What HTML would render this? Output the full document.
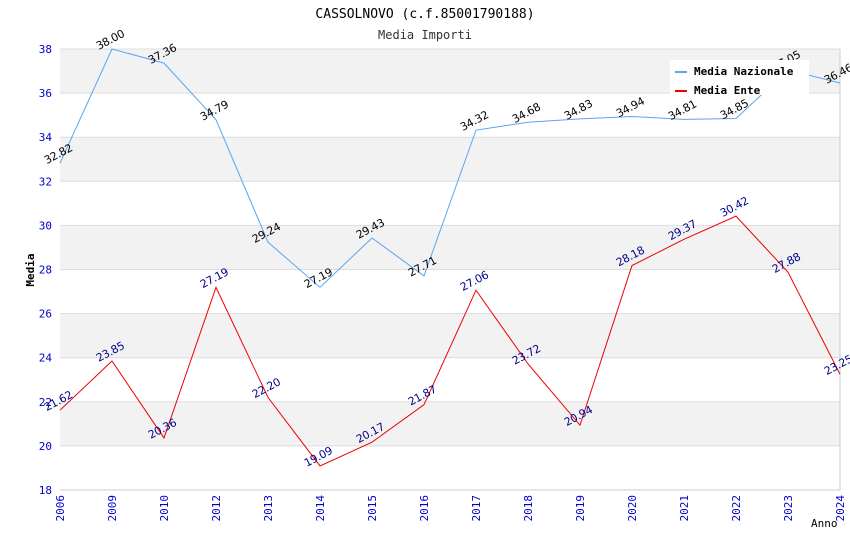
<!DOCTYPE html>
<html><head><meta charset="utf-8"><style>
body{margin:0;background:#fff;}
svg{font-family:"DejaVu Sans Mono","Liberation Mono",monospace;}
</style></head><body>
<svg id="chart" width="850" height="550" xmlns="http://www.w3.org/2000/svg">
<text x="425" y="18" text-anchor="middle" font-size="13">CASSOLNOVO (c.f.85001790188)</text>
<text x="425" y="39" text-anchor="middle" font-size="12" fill="#333">Media Importi</text>
<g id="bands"></g><g id="grid"></g><g id="axes"></g><g id="series"></g><g id="labels"></g>
<text transform="translate(34,270) rotate(-90)" text-anchor="middle" font-size="11" font-weight="bold">Media</text>
<text x="811" y="527" font-size="11">Anno</text>
<g>
<rect x="670" y="60" width="139" height="35" fill="#fff"/>
<line x1="675" y1="72" x2="687" y2="72" stroke="#5aa5ee" stroke-width="2"/>
<text x="694" y="75" font-size="11" font-weight="bold">Media Nazionale</text>
<line x1="675" y1="91" x2="687" y2="91" stroke="#e00" stroke-width="2"/>
<text x="694" y="94" font-size="11" font-weight="bold">Media Ente</text>
</g>
</svg>
<script>
const categories=["2006","2009","2010","2012","2013","2014","2015","2016","2017","2018","2019","2020","2021","2022","2023","2024"];
const nazionale=[32.82,38.00,37.36,34.79,29.24,27.19,29.43,27.71,34.32,34.68,34.83,34.94,34.81,34.85,37.05,36.46];
const ente=[21.62,23.85,20.36,27.19,22.20,19.09,20.17,21.87,27.06,23.72,20.94,28.18,29.37,30.42,27.88,23.25];
const yTicks=[18,20,22,24,26,28,30,32,34,36,38];
const NS="http://www.w3.org/2000/svg";
const x0=60,x1=840,yTop=49,yBot=490,yMin=18,yMax=38;
const xs=i=>x0+i*(x1-x0)/(categories.length-1);
const ys=v=>yBot-(v-yMin)/(yMax-yMin)*(yBot-yTop);
function mk(tag,attrs,parent){const e=document.createElementNS(NS,tag);for(const k in attrs)e.setAttribute(k,attrs[k]);document.getElementById(parent).appendChild(e);return e;}
for(let i=0;i<yTicks.length-1;i++){
  if(i%2===1){const r=mk('rect',{x:x0,y:ys(yTicks[i+1]),width:x1-x0,height:ys(yTicks[i])-ys(yTicks[i+1]),fill:'#f2f2f2'},'bands');
  
  }
}
yTicks.forEach(t=>{
  const l=mk('line',{x1:x0,x2:x1,y1:ys(t),y2:ys(t),stroke:'#ddd'},'grid');
  
  
  const tx=mk('text',{x:52,y:ys(t)+4,'text-anchor':'end','font-size':11,fill:'#00c'},'axes');
  tx.textContent=t;
  
  
});
mk('line',{x1:x1,x2:x1,y1:yTop,y2:yBot,stroke:'#ccc'},'axes');
mk('line',{x1:x0,x2:x1,y1:yBot,y2:yBot,stroke:'#ccc'},'axes');
categories.forEach((c,i)=>{
  const tx=mk('text',{transform:`translate(${xs(i)+4},${yBot+5}) rotate(-90)`,'text-anchor':'end','font-size':11,fill:'#00c'},'axes');
  tx.textContent=c;
  
  
});
function series(vals,color,lblColor,name){
  const p=mk('polyline',{points:vals.map((v,i)=>xs(i)+','+ys(v)).join(' '),fill:'none',stroke:color,'stroke-width':1},'series');
  
  
  vals.forEach((v,i)=>{
    const t=mk('text',{transform:`translate(${xs(i)},${ys(v)-6}) rotate(-28)`,'text-anchor':'middle','font-size':11,fill:lblColor,'font-family':'"DejaVu Sans",sans-serif','letter-spacing':'-0.3'},'labels');
    t.textContent=v.toFixed(2);
    
    
  });
}
series(nazionale,'#5aa5ee','#000','line-media-nazionale');
series(ente,'#e00','#00008b','line-media-ente');
</script>
</body></html>
